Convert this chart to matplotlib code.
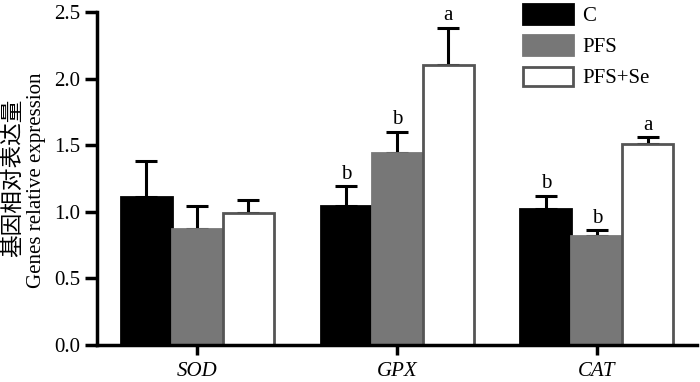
import matplotlib
matplotlib.use("Agg")
import matplotlib.pyplot as plt
import numpy as np

genes = ["SOD", "GPX", "CAT"]
groups = ["C", "PFS", "PFS+Se"]
means = {
    "C": [1.11, 1.04, 1.02],
    "PFS": [0.87, 1.44, 0.82],
    "PFS+Se": [0.99, 2.10, 1.51],
}
errs = {
    "C": [0.27, 0.15, 0.10],
    "PFS": [0.17, 0.16, 0.04],
    "PFS+Se": [0.10, 0.28, 0.05],
}
letters = {
    "C": ["", "b", "b"],
    "PFS": ["", "b", "b"],
    "PFS+Se": ["", "a", "a"],
}
yticks = [0.0, 0.5, 1.0, 1.5, 2.0, 2.5]
ylabel_cn = "基因相对表达量"
ylabel_en = "Genes relative expression"

plt.rcParams['font.family'] = ['Liberation Serif', 'Noto Sans CJK SC']
fig = plt.figure(figsize=(7, 3.82), dpi=100)
ax = fig.add_axes([0.1386, 0.0969, 0.8571, 0.8717])

faces = {"C": "black", "PFS": "#777777", "PFS+Se": "white"}
edges = {"C": "black", "PFS": "#777777", "PFS+Se": "#555555"}
fs = 15
w = 0.255
x = np.arange(len(genes))
for i, g in enumerate(groups):
    pos = x + (i - 1) * w
    ax.bar(pos, means[g], width=w, color=faces[g], edgecolor=edges[g],
           linewidth=2, label=g, zorder=2)
    ax.errorbar(pos, means[g], yerr=[np.zeros(3), errs[g]], fmt='none',
                ecolor='black', elinewidth=2.2, capsize=8, capthick=2.2, zorder=1)
    for p, m, e, l in zip(pos, means[g], errs[g], letters[g]):
        if l:
            ax.text(p, m + e + 0.02, l, ha='center', va='bottom', fontsize=fs)

ax.set_xlim(-0.5, 2.5)
ax.set_ylim(0, 2.5)
ax.set_yticks(yticks)
ax.set_yticklabels([f"{v:.1f}" for v in yticks], fontsize=fs)
ax.set_xticks(x)
ax.set_xticklabels(genes, fontsize=fs, style='italic')
ax.tick_params(axis='y', direction='out', length=9, width=2.5, pad=3)
ax.tick_params(axis='x', direction='out', length=7, width=2.5, pad=5)
for s in ['top', 'right']:
    ax.spines[s].set_visible(False)
for s in ['left', 'bottom']:
    ax.spines[s].set_linewidth(2.5)

fig.text(13 / 700, 1 - 178 / 382, ylabel_cn, rotation=90, ha='center', va='center',
         fontsize=16.3, family=['Noto Sans CJK SC'])
fig.text(37 / 700, 1 - 180 / 382, ylabel_en, rotation=90, ha='center', va='center',
         fontsize=fs)

leg = ax.legend(loc='upper left', bbox_to_anchor=(0.678, 1.08), frameon=False,
                fontsize=fs, handlelength=2.4, handleheight=1.06, labelspacing=0.45,
                handletextpad=0.45)

fig.savefig("out.png", dpi=100)
